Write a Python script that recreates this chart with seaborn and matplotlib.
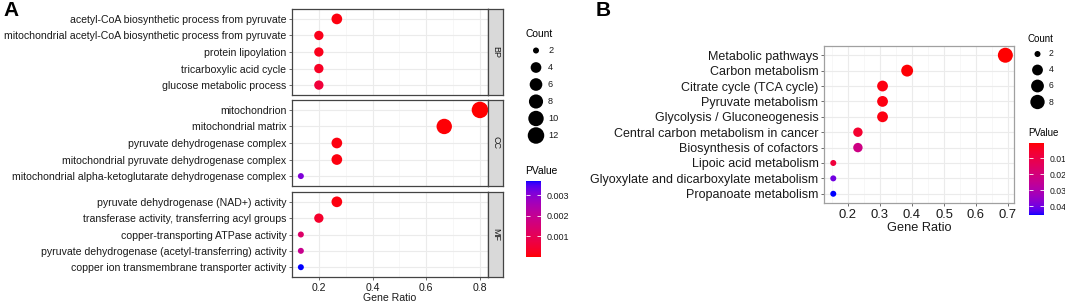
import numpy as np
import pandas as pd
import matplotlib
matplotlib.use("Agg")
import matplotlib.pyplot as plt
import seaborn as sns
from matplotlib.colors import ListedColormap, Normalize
from matplotlib.cm import ScalarMappable

# ---------------- data: panel A (GO enrichment) ----------------
bp_terms = ["acetyl-CoA biosynthetic process from pyruvate",
            "mitochondrial acetyl-CoA biosynthetic process from pyruvate",
            "protein lipoylation",
            "tricarboxylic acid cycle",
            "glucose metabolic process"]
bp_ratio = [0.267, 0.2, 0.2, 0.2, 0.2]
bp_count = [4, 3, 3, 3, 3]
bp_p = [0.0001, 0.0002, 0.0002, 0.0003, 0.0006]

cc_terms = ["mitochondrion",
            "mitochondrial matrix",
            "pyruvate dehydrogenase complex",
            "mitochondrial pyruvate dehydrogenase complex",
            "mitochondrial alpha-ketoglutarate dehydrogenase complex"]
cc_ratio = [0.8, 0.667, 0.267, 0.267, 0.133]
cc_count = [12, 10, 4, 4, 2]
cc_p = [0.00001, 0.00003, 0.0001, 0.0001, 0.0031]

mf_terms = ["pyruvate dehydrogenase (NAD+) activity",
            "transferase activity, transferring acyl groups",
            "copper-transporting ATPase activity",
            "pyruvate dehydrogenase (acetyl-transferring) activity",
            "copper ion transmembrane transporter activity"]
mf_ratio = [0.267, 0.2, 0.133, 0.133, 0.133]
mf_count = [4, 3, 2, 2, 2]
mf_p = [0.0001, 0.0004, 0.0013, 0.0019, 0.00368]

facet_names = ["BP", "CC", "MF"]
a_count_legend = [2, 4, 6, 8, 10, 12]
a_p_ticks = [0.001, 0.002, 0.003]

# ---------------- data: panel B (KEGG enrichment) ----------------
kegg_terms = ["Metabolic pathways", "Carbon metabolism", "Citrate cycle (TCA cycle)",
              "Pyruvate metabolism", "Glycolysis / Gluconeogenesis",
              "Central carbon metabolism in cancer", "Biosynthesis of cofactors",
              "Lipoic acid metabolism", "Glyoxylate and dicarboxylate metabolism",
              "Propanoate metabolism"]
kegg_ratio = [0.692, 0.385, 0.308, 0.308, 0.308, 0.231, 0.231, 0.154, 0.154, 0.154]
kegg_count = [9, 5, 4, 4, 4, 3, 3, 2, 2, 2]
kegg_p = [0.0006, 0.001, 0.002, 0.002, 0.002, 0.006, 0.022, 0.008, 0.040, 0.0456]
b_count_legend = [2, 4, 6, 8]
b_p_ticks = [0.01, 0.02, 0.03, 0.04]


# red -> blue gradient interpolated in Lab space (like ggplot2)
def lab_to_rgb(L, a, b):
    fy = (L + 16) / 116
    fx = fy + a / 500
    fz = fy - b / 200
    def finv(t):
        return np.where(t > 6 / 29, t ** 3, 3 * (6 / 29) ** 2 * (t - 4 / 29))
    xyz = np.stack([0.95047 * finv(fx), finv(fy), 1.08883 * finv(fz)], axis=-1)
    m = np.array([[3.2406, -1.5372, -0.4986],
                  [-0.9689, 1.8758, 0.0415],
                  [0.0557, -0.2040, 1.0570]])
    lin = np.clip(xyz @ m.T, 0, 1)
    rgb = np.where(lin <= 0.0031308, 12.92 * lin, 1.055 * lin ** (1 / 2.4) - 0.055)
    return np.clip(rgb, 0, 1)


t = np.linspace(0, 1, 256)
red_lab = np.array([53.24, 80.09, 67.20])
blue_lab = np.array([32.30, 79.19, -107.86])
lab = red_lab[None, :] * (1 - t[:, None]) + blue_lab[None, :] * t[:, None]
cmap = ListedColormap(lab_to_rgb(lab[:, 0], lab[:, 1], lab[:, 2]))


# ggplot-like area scale: diameter grows with sqrt of the rescaled count
def size_scale(levels, lo, hi, dmin_px, dmax_px):
    out = {}
    for c in levels:
        d_px = dmin_px + (dmax_px - dmin_px) * np.sqrt((c - lo) / (hi - lo))
        out[c] = (d_px * 0.72) ** 2
    return out


W, H = 1065, 304
plt.rcParams["font.family"] = ["Liberation Sans", "DejaVu Sans"]
fig = plt.figure(figsize=(W / 100, H / 100), dpi=100)


def box(x0, y0, x1, y1):
    return [x0 / W, 1 - y1 / H, (x1 - x0) / W, (y1 - y0) / H]


def style_axis(ax, border, fs_y, fs_x):
    ax.set_axisbelow(True)
    ax.grid(which="major", color="#EBEBEB", lw=0.8)
    ax.grid(which="minor", axis="x", color="#F4F4F4", lw=0.5)
    for s in ax.spines.values():
        s.set_color(border)
        s.set_linewidth(0.9)
    ax.tick_params(axis="y", length=2.5, width=0.6, color="#555555", labelsize=fs_y,
                   labelcolor="#1a1a1a", pad=1.5)
    ax.tick_params(axis="x", which="major", length=2.5, width=0.6, color="#555555",
                   labelsize=fs_x, labelcolor="#1a1a1a", pad=1.5)
    ax.tick_params(axis="x", which="minor", length=0)
    ax.set_ylabel("")


# ---------------- panel A ----------------
a_norm = Normalize(0.0, 0.00368)
a_levels = sorted(set(bp_count + cc_count + mf_count + a_count_legend))
a_sizes = size_scale(a_levels, 2, 12, 6.0, 16.5)
facet_data = [(bp_terms, bp_ratio, bp_count, bp_p),
              (cc_terms, cc_ratio, cc_count, cc_p),
              (mf_terms, mf_ratio, mf_count, mf_p)]
facet_rows = [(9, 95), (100, 186), (192, 277)]

for i, (name, (terms, ratio, count, p), (top, bot)) in enumerate(
        zip(facet_names, facet_data, facet_rows)):
    df = pd.DataFrame({"term": terms, "ratio": ratio, "count": count, "p": p})
    ax = fig.add_axes(box(292, top, 488, bot))
    sns.scatterplot(data=df, x="ratio", y="term", hue="p", size="count",
                    palette=cmap, hue_norm=a_norm, sizes=a_sizes,
                    linewidth=0, legend=False, ax=ax, zorder=3)
    ax.set_xlim(0.1, 0.83)
    ax.set_ylim(len(terms) - 0.4, -0.6)
    ax.set_xticks([0.2, 0.4, 0.6, 0.8])
    ax.set_xticks([0.1, 0.3, 0.5, 0.7], minor=True)
    style_axis(ax, "#444444", 7.6, 7.6)
    if i < 2:
        ax.tick_params(axis="x", labelbottom=False, length=0)
        ax.set_xlabel("")
    else:
        ax.set_xticklabels(["0.2", "0.4", "0.6", "0.8"])
        ax.set_xlabel("Gene Ratio", fontsize=7.6, labelpad=0.5, color="#1a1a1a")
    sax = fig.add_axes(box(488, top, 503, bot))
    sax.set_facecolor("#D9D9D9")
    sax.set_xticks([])
    sax.set_yticks([])
    for s in sax.spines.values():
        s.set_color("#444444")
        s.set_linewidth(0.9)
    sax.text(0.5, 0.5, name, rotation=-90, ha="center", va="center",
             fontsize=6.5, color="#1a1a1a", transform=sax.transAxes)

# panel A legends
fig.text(525 / W, 1 - 34 / H, "Count", fontsize=7.4, va="center", ha="left")
lax = fig.add_axes(box(526, 42, 570, 144))
ldf = pd.DataFrame({"x": [0] * len(a_count_legend), "y": range(len(a_count_legend)),
                    "count": a_count_legend})
sns.scatterplot(data=ldf, x="x", y="y", size="count", sizes=a_sizes,
                color="black", linewidth=0, legend=False, ax=lax)
for yy, c in zip(ldf["y"], a_count_legend):
    lax.text(1.2, yy, str(c), fontsize=6.6, va="center", ha="left", color="#1a1a1a")
lax.set_xlim(-1, 3.4)
lax.set_ylim(len(a_count_legend) - 0.5, -0.5)
lax.axis("off")

fig.text(525 / W, 1 - 171 / H, "PValue", fontsize=7.4, va="center", ha="left")
cax = fig.add_axes(box(526, 181, 541, 257))
cb = fig.colorbar(ScalarMappable(norm=a_norm, cmap=cmap), cax=cax)
cb.outline.set_visible(False)
cb.set_ticks(a_p_ticks)
cb.set_ticklabels([str(v) for v in a_p_ticks])
cax.tick_params(which="major", left=True, right=True, direction="in", length=3,
                width=0.6, color="white", labelsize=6.5, labelcolor="#1a1a1a", pad=4)
cax.minorticks_off()

# ---------------- panel B ----------------
b_norm = Normalize(0.0006, 0.0456)
b_levels = sorted(set(kegg_count + b_count_legend))
b_sizes = size_scale(b_levels, 2, 9, 6.0, 15.0)
kdf = pd.DataFrame({"term": kegg_terms, "ratio": kegg_ratio, "count": kegg_count, "p": kegg_p})
bx = fig.add_axes(box(824, 46, 1014, 203))
sns.scatterplot(data=kdf, x="ratio", y="term", hue="p", size="count",
                palette=cmap, hue_norm=b_norm, sizes=b_sizes,
                linewidth=0, legend=False, ax=bx, zorder=3)
bx.set_xlim(0.125, 0.719)
bx.set_ylim(len(kegg_terms) - 0.4, -0.6)
bx.set_xticks([0.2, 0.3, 0.4, 0.5, 0.6, 0.7])
bx.set_xticks([0.15, 0.25, 0.35, 0.45, 0.55, 0.65], minor=True)
style_axis(bx, "#A0A0A0", 9.0, 9.4)
bx.set_xlabel("Gene Ratio", fontsize=9.2, labelpad=1, color="#1a1a1a")

fig.text(1028 / W, 1 - 39 / H, "Count", fontsize=7, va="center", ha="left")
lbx = fig.add_axes(box(1029, 46, 1063, 110))
lbdf = pd.DataFrame({"x": [0] * len(b_count_legend), "y": range(len(b_count_legend)),
                     "count": b_count_legend})
sns.scatterplot(data=lbdf, x="x", y="y", size="count", sizes=b_sizes,
                color="black", linewidth=0, legend=False, ax=lbx)
for yy, c in zip(lbdf["y"], b_count_legend):
    lbx.text(1.3, yy, str(c), fontsize=6.2, va="center", ha="left", color="#1a1a1a")
lbx.set_xlim(-1, 3)
lbx.set_ylim(len(b_count_legend) - 0.5, -0.5)
lbx.axis("off")

fig.text(1028 / W, 1 - 133 / H, "PValue", fontsize=7, va="center", ha="left")
cbx = fig.add_axes(box(1029, 143, 1044, 215))
cb2 = fig.colorbar(ScalarMappable(norm=b_norm, cmap=cmap), cax=cbx)
cb2.outline.set_visible(False)
cb2.set_ticks(b_p_ticks)
cb2.set_ticklabels([str(v) for v in b_p_ticks])
cbx.invert_yaxis()
cbx.tick_params(which="major", left=True, right=True, direction="in", length=3,
                width=0.6, color="white", labelsize=6.2, labelcolor="#1a1a1a", pad=4)
cbx.minorticks_off()

# panel letters
fig.text(3 / W, 1 - 11 / H, "A", fontsize=15, fontweight="bold", va="center", ha="left")
fig.text(596 / W, 1 - 11 / H, "B", fontsize=15, fontweight="bold", va="center", ha="left")

fig.savefig("out.png", dpi=100)
